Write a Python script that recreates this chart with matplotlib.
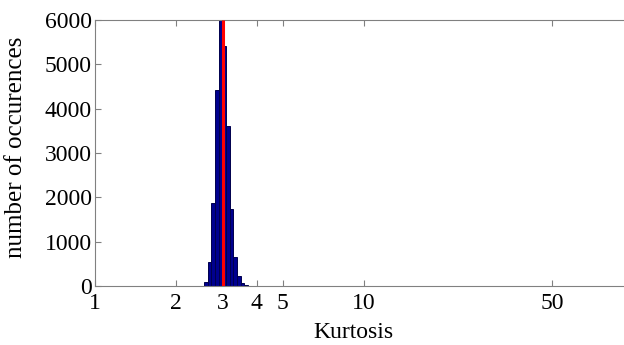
import numpy as np
import matplotlib
matplotlib.use("Agg")
import matplotlib.pyplot as plt

# ---- data ----
kurtosis_bins = [2.510, 2.590, 2.672, 2.756, 2.844, 2.934, 3.027, 3.123, 3.222,
                 3.324, 3.429, 3.538, 3.650, 3.766, 3.885, 4.009,
                 4.99, 5.15, 5.31, 5.48, 5.65, 5.83, 6.02, 6.21, 6.41, 6.61,
                 6.82, 7.03, 7.26, 7.49, 7.72, 7.97, 8.22, 8.48, 8.75, 9.03,
                 9.60, 11.22, 12.33, 12.72, 13.12, 15.33, 19.68, 27.74, 55.1]
occurrences = [5, 100, 540, 1870, 4420, 6400, 5420, 3610, 1740,
               650, 226, 60, 20, 10, 5, 3,
               2, 1, 2, 2, 1, 2, 1, 1, 2, 1,
               1, 1, 2, 1, 1, 1, 1, 1, 1, 1,
               1, 1, 2, 1, 1, 1, 1, 1, 1]
reference_kurtosis = 3
xtick_values = [1, 2, 3, 4, 5, 10, 50]
xtick_labels = ["1", "2", "3", "4", "5", "10", "50"]
ytick_values = [0, 1000, 2000, 3000, 4000, 5000, 6000]

# ---- style ----
log_bin_width = 0.01355
plt.rcParams['font.family'] = ['Liberation Serif', 'DejaVu Serif']

fig = plt.figure(figsize=(6.24, 3.45), dpi=100)
ax = fig.add_axes([0.1516, 0.171, 0.8635, 0.771])

centers = np.array(kurtosis_bins)
lefts = centers * 10 ** (-log_bin_width / 2)
rights = centers * 10 ** (log_bin_width / 2)
ax.bar(lefts, occurrences, width=rights - lefts, align='edge',
       color=(0, 0, 0.5625), edgecolor=(0, 0, 0.3), linewidth=0.7, zorder=2)
ax.plot([reference_kurtosis, reference_kurtosis], [0, 6000], color='red',
        linewidth=2.2, zorder=3, solid_capstyle='butt')

ax.set_xscale('log')
ax.set_xlim(1, 100)
ax.set_ylim(0, 6000)
ax.set_xticks(xtick_values)
ax.set_xticklabels(xtick_labels)
ax.minorticks_off()
ax.set_yticks(ytick_values)

for s in ax.spines.values():
    s.set_color('0.5')
    s.set_linewidth(0.8)

ax.tick_params(axis='both', which='both', direction='in', length=4,
               color='0.5', labelsize=17, labelcolor='black')
ax.tick_params(axis='x', top=True, pad=5)
ax.tick_params(axis='y', right=False, pad=2)

ax.set_xlabel('Kurtosis', fontsize=17)
ax.set_ylabel('number of occurences', fontsize=18)
ax.xaxis.set_label_coords(0.48, -0.135)
ax.yaxis.set_label_coords(-0.125, 0.52)

fig.savefig('out.png', dpi=100)
